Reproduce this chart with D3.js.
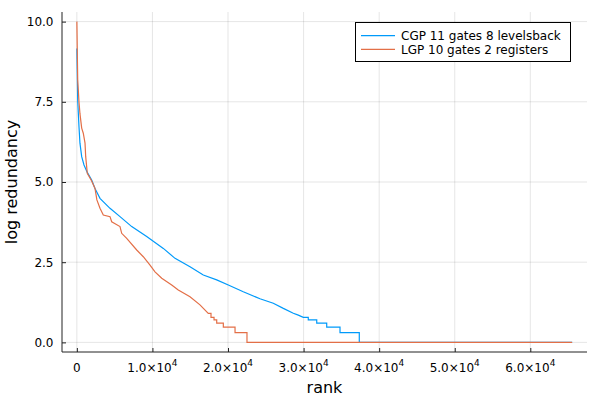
<!DOCTYPE html>
<html>
<head>
<meta charset="utf-8">
<script src="https://cdn.jsdelivr.net/npm/d3@7"></script>
<style>
  body { margin: 0; background: #fff; }
  svg { font-family: "DejaVu Sans", sans-serif; }
</style>
</head>
<body>
<div id="chart"></div>
<script>
// data
const seriesNames = ["CGP 11 gates 8 levelsback", "LGP 10 gates 2 registers"]
const seriesColors = ["#009AFA", "#E36F47"]

const cgpRank = [0, 110, 280, 410, 640, 945, 1380, 1960, 2400, 3060, 4385, 5710, 7260, 9240,
  11440, 12990, 14970, 16730, 18500, 20040, 22020, 24230, 25990, 27320, 28640, 29300, 29960,
  30620, 30620, 31740, 31740, 33060, 33060, 34820, 34820, 37370, 37370, 65535]
const cgpLogRed = [9.16, 7.55, 6.73, 6.21, 5.79, 5.53, 5.30, 5.06, 4.80, 4.49, 4.18, 3.92, 3.61, 3.30,
  2.93, 2.62, 2.36, 2.10, 1.95, 1.79, 1.58, 1.36, 1.22, 1.06, 0.91, 0.85, 0.78,
  0.78, 0.699, 0.699, 0.602, 0.602, 0.477, 0.477, 0.301, 0.301, 0, 0]

const lgpRank = [0, 110, 280, 410, 640, 850, 1080, 1170, 1380, 1960, 2400, 2650, 3060, 3500, 4385,
  4610, 5710, 5930, 6595, 7920, 8790, 9680, 10340, 11230, 12550, 13420, 14970, 16290, 17390,
  17750, 17750, 18150, 18150, 18505, 18505, 19380, 19380, 20930, 20930, 22510, 22510, 65535]
const lgpLogRed = [10.0, 8.2, 7.5, 7.13, 6.68, 6.52, 6.21, 5.79, 5.27, 5.03, 4.80, 4.44, 4.18, 3.97, 3.92,
  3.76, 3.61, 3.40, 3.24, 2.88, 2.67, 2.41, 2.20, 2.00, 1.79, 1.63, 1.42, 1.17, 0.903,
  0.903, 0.778, 0.778, 0.699, 0.699, 0.602, 0.602, 0.477, 0.477, 0.301, 0.301, 0, 0]

const xTicks = [0, 10000, 20000, 30000, 40000, 50000, 60000]
const yTicks = [0, 2.5, 5, 7.5, 10]

const width = 600
const height = 400
const mLeft = 62, mRight = 587, mTop = 12, mBottom = 352

const svg = d3.select("#chart")
  .append("svg")
  .attr("width", width)
  .attr("height", height)

const x = d3.scaleLinear()
  .domain([-0.03 * 65535, 1.03 * 65535])
  .range([mLeft, mRight])

const y = d3.scaleLinear()
  .domain([-0.3, 10.3])
  .range([mBottom, mTop])

// grid
svg.append("g")
  .selectAll("line")
  .data(xTicks)
  .join("line")
  .attr("x1", d => x(d)).attr("x2", d => x(d))
  .attr("y1", mTop).attr("y2", mBottom)
  .attr("stroke", "#000").attr("stroke-opacity", 0.1).attr("stroke-width", 1)

svg.append("g")
  .selectAll("line")
  .data(yTicks)
  .join("line")
  .attr("x1", mLeft).attr("x2", mRight)
  .attr("y1", d => y(d)).attr("y2", d => y(d))
  .attr("stroke", "#000").attr("stroke-opacity", 0.1).attr("stroke-width", 1)

// X axis
const xAxis = svg.append("g")
  .attr("transform", `translate(0,${mBottom})`)
  .call(d3.axisBottom(x).tickValues(xTicks).tickSizeInner(-4).tickSizeOuter(0).tickFormat(""))
xAxis.select(".domain").attr("stroke", "#222").attr("d", `M${mLeft},0H${mRight}`)
xAxis.selectAll(".tick line").attr("stroke", "#222")

// x tick labels like 1.0×10^4
const xLab = svg.append("g")
  .selectAll("text")
  .data(xTicks)
  .join("text")
  .attr("x", d => x(d))
  .attr("y", 371.5)
  .attr("text-anchor", "middle")
  .style("font-size", "12px")
  .attr("fill", "#000")
xLab.each(function(d) {
  const t = d3.select(this)
  if (d === 0) { t.text("0"); return }
  t.append("tspan").text((d / 1e4).toFixed(1) + "×10")
  t.append("tspan").attr("dy", -6).style("font-size", "9px").text("4")
})

// Y axis
const yAxis = svg.append("g")
  .attr("transform", `translate(${mLeft},0)`)
  .call(d3.axisLeft(y).tickValues(yTicks).tickSizeInner(-4).tickSizeOuter(0).tickFormat(d3.format(".1f")))
yAxis.select(".domain").attr("stroke", "#222").attr("d", `M0,${mBottom}V${mTop}`)
yAxis.selectAll(".tick line").attr("stroke", "#222")
yAxis.selectAll(".tick text")
  .attr("x", -8.5)
  .style("font-size", "12px")
  .style("font-family", "DejaVu Sans")
  .attr("fill", "#000")

// lines
const line = d3.line().x(d => x(d[0])).y(d => y(d[1]))
const series = [
  d3.zip(cgpRank, cgpLogRed),
  d3.zip(lgpRank, lgpLogRed)
]
svg.append("g")
  .selectAll("path")
  .data(series)
  .join("path")
  .attr("d", line)
  .attr("fill", "none")
  .attr("stroke", (d, i) => seriesColors[i])
  .attr("stroke-width", 1.2)

// axis labels
svg.append("text")
  .attr("x", (mLeft + mRight) / 2)
  .attr("y", 393)
  .attr("text-anchor", "middle")
  .style("font-size", "16px")
  .text("rank")

svg.append("text")
  .attr("transform", "rotate(-90)")
  .attr("x", -(mTop + mBottom) / 2)
  .attr("y", 17)
  .attr("text-anchor", "middle")
  .style("font-size", "16px")
  .text("log redundancy")

// legend
const legend = svg.append("g")
legend.append("rect")
  .attr("x", 355.5).attr("y", 22.5)
  .attr("width", 215).attr("height", 39)
  .attr("fill", "#fff").attr("stroke", "#000").attr("stroke-width", 1)

const rows = legend.selectAll("g.row")
  .data(seriesNames)
  .join("g")
  .attr("class", "row")
  .attr("transform", (d, i) => `translate(0,${35.7 + i * 13.6})`)
rows.append("line")
  .attr("x1", 361).attr("x2", 395)
  .attr("stroke", (d, i) => seriesColors[i])
  .attr("stroke-width", 1.2)
rows.append("text")
  .attr("x", 401)
  .attr("dy", "0.35em")
  .style("font-size", "12px")
  .text(d => d)
</script>
</body>
</html>
